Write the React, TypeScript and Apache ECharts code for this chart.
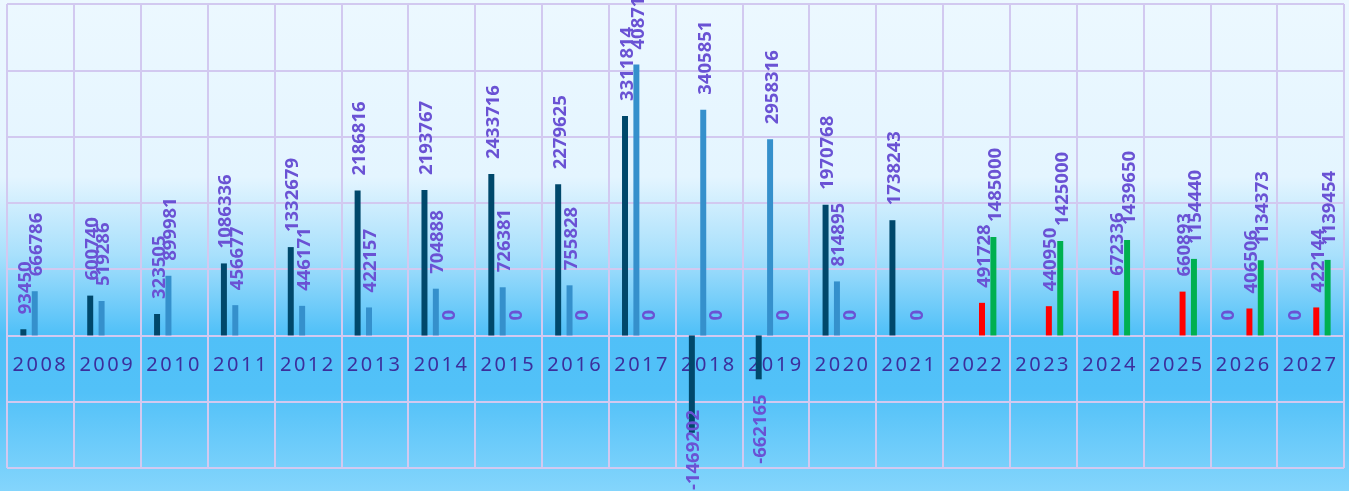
import React, { useEffect, useRef } from "react";
import * as echarts from "echarts";

const years = [
  "2008", "2009", "2010", "2011", "2012", "2013", "2014", "2015", "2016", "2017",
  "2018", "2019", "2020", "2021", "2022", "2023", "2024", "2025", "2026", "2027",
];

const series1 = [
  93450, 600740, 323505, 1086336, 1332679, 2186816, 2193767, 2433716, 2279625, 3311814,
  -1469202, -662165, 1970768, 1738243, null, null, null, null, 0, 0,
];
const series2 = [
  666786, 519286, 899981, 456677, 446171, 422157, 704888, 726381, 755828, 4087146,
  3405851, 2958316, 814895, null, null, null, null, null, null, null,
];
const series3 = [
  null, null, null, null, null, null, 0, 0, 0, 0,
  0, 0, 0, 0, 491728, 440950, 672336, 660893, 406506, 422144,
];
const series4 = [
  null, null, null, null, null, null, null, null, null, null,
  null, null, null, null, 1485000, 1425000, 1439650, 1154440, 1134373, 1139454,
];

const yMin = -2000000;
const yMax = 5000000;
const yInterval = 1000000;

const seriesNames = ["Series 1", "Series 2", "Series 3", "Series 4"];
const seriesColors = ["#00486b", "#3590cc", "#ff0000", "#00b050"];

const LABEL_COLOR = "#6a52d4";
const AXIS_LABEL_COLOR = "#3c2f9c";
const GRID_COLOR = "#d2c9f0";

const GRID_TOP = 4;
const GRID_BOTTOM = 23;
const CHART_H = 491;

function toData(values: (number | null)[]) {
  return values.map((v) =>
    v != null && v < 0
      ? { value: v, label: { position: "bottom", align: "right" } }
      : v
  );
}

export default function App() {
  const ref = useRef<HTMLDivElement>(null);

  useEffect(() => {
    if (!ref.current) return;
    const chart = echarts.init(ref.current, null, { renderer: "svg" });

    const label = {
      show: true,
      position: "top",
      distance: 15,
      rotate: 90,
      align: "left",
      verticalAlign: "middle",
      color: LABEL_COLOR,
      fontFamily: "'Open Sans'",
      fontWeight: "bold",
      fontSize: 18.5,
    };

    const all = [series1, series2, series3, series4];

    // distance from the grid bottom up to the zero line
    const plotH = CHART_H - GRID_TOP - GRID_BOTTOM;
    const zeroOffset = (plotH * (0 - yMin)) / (yMax - yMin);

    chart.setOption({
      animation: false,
      graphic: [
        {
          type: "rect",
          z: -100,
          silent: true,
          shape: { x: 0, y: 0, width: 1349, height: 491 },
          style: {
            fill: new echarts.graphic.LinearGradient(0, 0, 0, 1, [
              { offset: 0, color: "#ecf8ff" },
              { offset: 0.36, color: "#e4f5ff" },
              { offset: 0.52, color: "#a8e0fc" },
              { offset: 0.68, color: "#50c0f8" },
              { offset: 0.8, color: "#52c1f8" },
              { offset: 1, color: "#84d5fc" },
            ]),
          },
        },
      ],
      grid: {
        left: 7,
        right: 5,
        top: GRID_TOP,
        bottom: GRID_BOTTOM,
        containLabel: false,
        outerBoundsMode: "none",
      },
      xAxis: {
        type: "category",
        data: years,
        offset: -zeroOffset,
        axisLine: { show: false, onZero: false },
        axisTick: { show: false },
        axisLabel: {
          color: AXIS_LABEL_COLOR,
          fontFamily: "'Noto Sans'",
          fontSize: 20,
          margin: 18,
        },
        splitLine: { show: true, lineStyle: { color: GRID_COLOR, width: 2 } },
      },
      yAxis: {
        type: "value",
        min: yMin,
        max: yMax,
        interval: yInterval,
        axisLabel: { show: false },
        axisLine: { show: false },
        axisTick: { show: false },
        splitLine: { show: true, lineStyle: { color: GRID_COLOR, width: 2 } },
      },
      series: all.map((vals, i) => ({
        name: seriesNames[i],
        type: "bar",
        data: toData(vals),
        itemStyle: { color: seriesColors[i] },
        barGap: "90%",
        barCategoryGap: "40%",
        label,
        labelLayout: (params: any) => {
          const r = params.labelRect;
          const limit = 490;
          if (r && r.y + r.height > limit) {
            return { dx: r.y + r.height - limit };
          }
          return {};
        },
      })),
    });

    return () => chart.dispose();
  }, []);

  return (
    <>
      <style>{`
        body { margin: 0; }
        #chartbox text[style*="Noto"], #chartbox text[fill="${AXIS_LABEL_COLOR}"] { letter-spacing: 2.5px; }
      `}</style>
      <div
        id="chartbox"
        ref={ref}
        style={{ position: "fixed", left: 0, top: 0, width: 1349, height: 491 }}
      />
    </>
  );
}
